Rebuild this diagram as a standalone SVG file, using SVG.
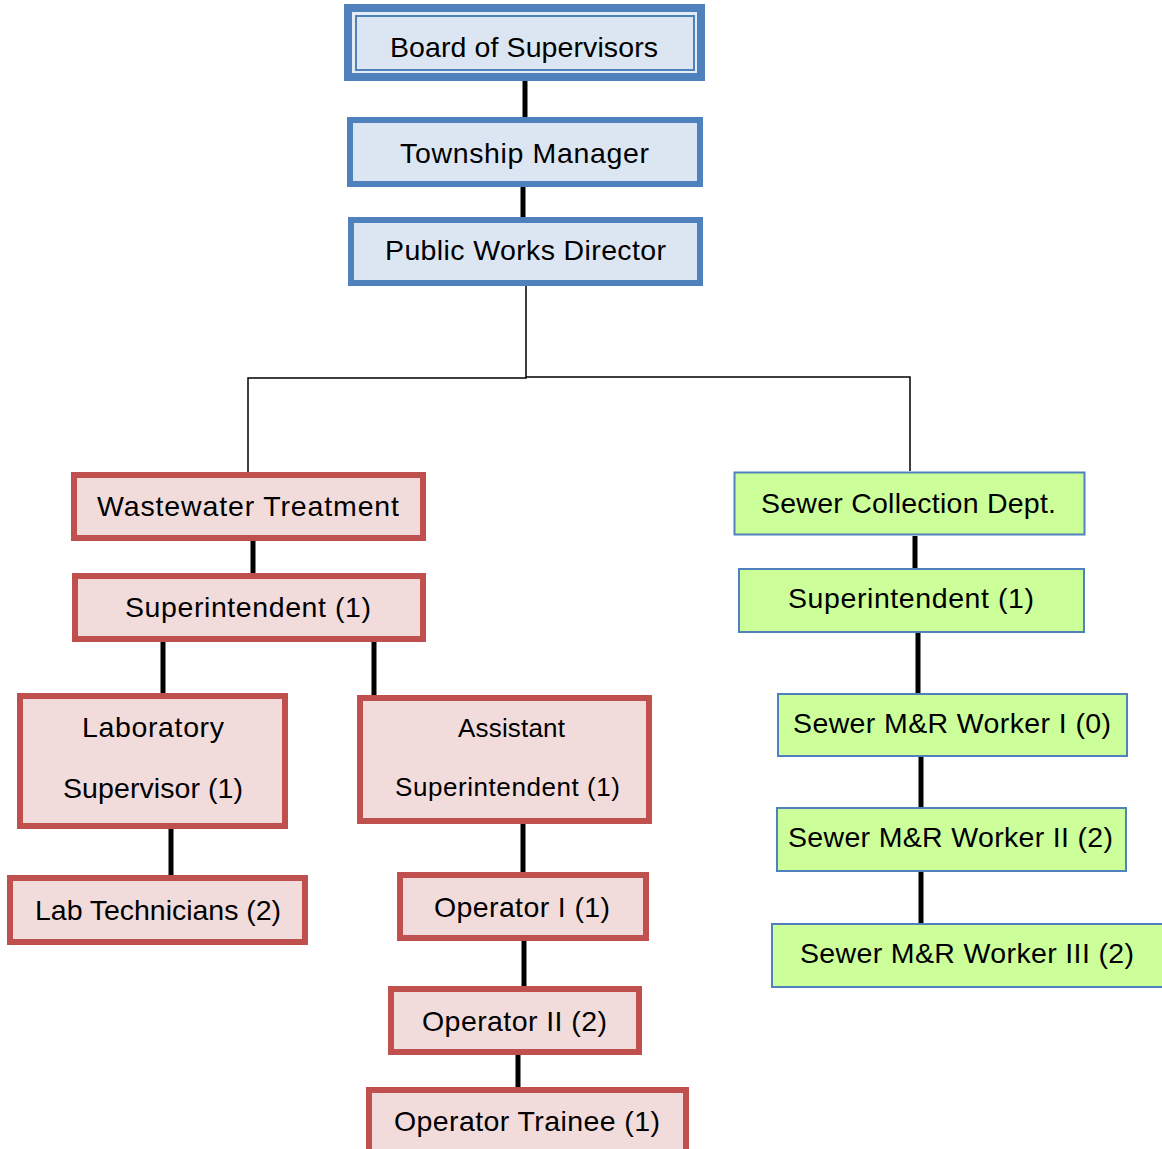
<svg xmlns="http://www.w3.org/2000/svg" width="1162" height="1149" viewBox="0 0 1162 1149">
<style>
.t{font-family:"Liberation Sans",Arial,sans-serif;font-size:28.5px;fill:#000;text-anchor:middle}
.s{font-size:26px}
.blue{fill:#DCE6F2;stroke:#4F81BD;stroke-width:6}
.red{fill:#F2DCDB;stroke:#C0504D;stroke-width:6}
.green{fill:#CCFF99;stroke:#4F81BD;stroke-width:2}
.thick{stroke:#000;stroke-width:5;fill:none}
.thin{stroke:#000;stroke-width:1.5;fill:none}
</style>
<rect width="1162" height="1149" fill="#fff"/>
<g id="connectors">
<line class="thick" x1="525" y1="81" x2="525" y2="117"/>
<line class="thick" x1="523" y1="187" x2="523" y2="217"/>
<path class="thin" d="M526 286 V378 H248 V472"/>
<path class="thin" d="M526 377 H910 V471"/>
<line class="thick" x1="253" y1="541" x2="253" y2="573"/>
<line class="thick" x1="163" y1="642" x2="163" y2="693"/>
<line class="thick" x1="374" y1="642" x2="374" y2="695"/>
<line class="thick" x1="171" y1="829" x2="171" y2="875"/>
<line class="thick" x1="523" y1="824" x2="523" y2="872"/>
<line class="thick" x1="524" y1="941" x2="524" y2="986"/>
<line class="thick" x1="518" y1="1055" x2="518" y2="1087"/>
<line class="thick" x1="915" y1="536" x2="915" y2="568"/>
<line class="thick" x1="918" y1="633" x2="918" y2="693"/>
<line class="thick" x1="921" y1="757" x2="921" y2="807"/>
<line class="thick" x1="921" y1="872" x2="921" y2="923"/>
</g>
<g id="board">
<rect x="348" y="8" width="353" height="69" fill="#E3EBF5" stroke="#4F81BD" stroke-width="8"/>
<rect x="356" y="16" width="338" height="54" fill="#DCE6F2" stroke="#4F81BD" stroke-width="2"/>
<text class="t" x="524" y="57" textLength="268">Board of Supervisors</text>
</g>
<g id="manager">
<rect class="blue" x="350" y="120" width="350" height="64"/>
<text class="t" x="524.5" y="163" textLength="249">Township Manager</text>
</g>
<g id="director">
<rect class="blue" x="351" y="220" width="349" height="63"/>
<text class="t" x="525.5" y="260" textLength="281">Public Works Director</text>
</g>
<g id="wastewater">
<rect class="red" x="74" y="475" width="349" height="63"/>
<text class="t" x="248" y="516" textLength="302">Wastewater Treatment</text>
</g>
<g id="ww-superintendent">
<rect class="red" x="75" y="576" width="348" height="63"/>
<text class="t" x="248" y="617" textLength="246">Superintendent (1)</text>
</g>
<g id="lab-supervisor">
<rect class="red" x="20" y="696" width="265" height="130"/>
<text class="t" x="153" y="737" textLength="142">Laboratory</text>
<text class="t" x="153" y="798" textLength="180">Supervisor (1)</text>
</g>
<g id="lab-technicians">
<rect class="red" x="10" y="878" width="295" height="64"/>
<text class="t" x="158" y="920" textLength="246">Lab Technicians (2)</text>
</g>
<g id="assistant-superintendent">
<rect class="red" x="360" y="698" width="289" height="123"/>
<text class="t s" x="511.5" y="737" textLength="107">Assistant</text>
<text class="t s" x="507.5" y="796" textLength="225">Superintendent (1)</text>
</g>
<g id="operator-1">
<rect class="red" x="400" y="875" width="246" height="63"/>
<text class="t" x="522" y="917" textLength="176">Operator I (1)</text>
</g>
<g id="operator-2">
<rect class="red" x="391" y="989" width="248" height="63"/>
<text class="t" x="514.5" y="1031" textLength="185">Operator II (2)</text>
</g>
<g id="operator-trainee">
<rect class="red" x="369" y="1090" width="317" height="80"/>
<text class="t" x="527" y="1131" textLength="266">Operator Trainee (1)</text>
</g>
<g id="sewer-collection">
<rect class="green" x="734.5" y="472.5" width="350" height="62" stroke-width="3"/>
<text class="t" x="908.5" y="513" textLength="295">Sewer Collection Dept.</text>
</g>
<g id="sc-superintendent">
<rect class="green" x="739" y="569" width="345" height="63"/>
<text class="t" x="911" y="608" textLength="246">Superintendent (1)</text>
</g>
<g id="worker-1">
<rect class="green" x="778" y="694" width="349" height="62"/>
<text class="t" x="952" y="733" textLength="318">Sewer M&amp;R Worker I (0)</text>
</g>
<g id="worker-2">
<rect class="green" x="777" y="808" width="349" height="63"/>
<text class="t" x="950.5" y="847" textLength="325">Sewer M&amp;R Worker II (2)</text>
</g>
<g id="worker-3">
<rect class="green" x="772" y="924" width="400" height="63"/>
<text class="t" x="967" y="963" textLength="334">Sewer M&amp;R Worker III (2)</text>
</g>
</svg>
